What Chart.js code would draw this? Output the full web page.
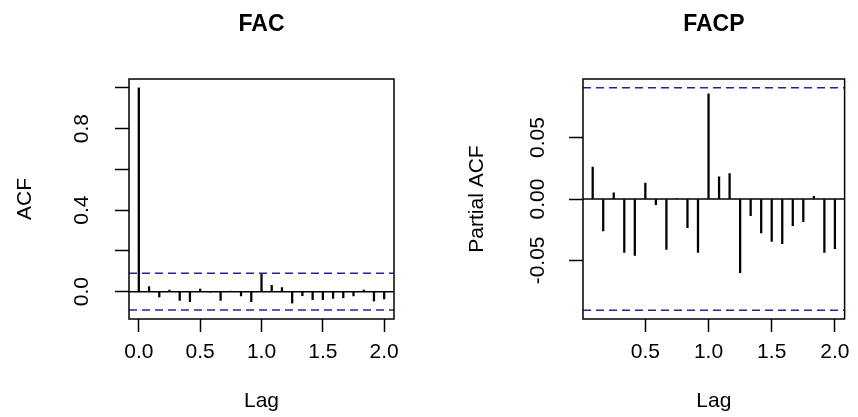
<!DOCTYPE html>
<html>
<head>
<meta charset="utf-8">
<script src="https://cdn.jsdelivr.net/npm/chart.js"></script>
<style>
body { margin: 0; background: #fff; }
.panel { position: absolute; top: 0; width: 429px; height: 417px; }
</style>
</head>
<body>
<div class="panel" style="left:0"><canvas id="acfChart"></canvas></div>
<div class="panel" style="left:429px"><canvas id="pacfChart"></canvas></div>
<script>
// series is monthly, so lag 1.0 = 12 observations
var frequency = 12;

var acfLags = [0, 1, 2, 3, 4, 5, 6, 7, 8, 9, 10, 11, 12, 13, 14, 15, 16, 17, 18, 19, 20, 21, 22, 23, 24];
var acfValues = [1.0, 0.025, -0.026, 0.008, -0.043, -0.049, 0.013, -0.002, -0.043, 0.001, -0.021, -0.049,
  0.090, 0.031, 0.020, -0.056, -0.020, -0.039, -0.039, -0.033, -0.030, -0.021, 0.008, -0.046, -0.036];

var pacfLags = [1, 2, 3, 4, 5, 6, 7, 8, 9, 10, 11, 12, 13, 14, 15, 16, 17, 18, 19, 20, 21, 22, 23, 24];
var pacfValues = [0.026, -0.026, 0.005, -0.0435, -0.046, 0.013, -0.0046, -0.041, 0.0003, -0.0234, -0.0435, 0.0856,
  0.018, 0.0207, -0.060, -0.0136, -0.0277, -0.0345, -0.0364, -0.0218, -0.0185, 0.0022, -0.0435, -0.0405];

var confLimit = 0.0905;

var lagTicks = [0, 0.5, 1, 1.5, 2];
var acfYTicks = [0, 0.2, 0.4, 0.6, 0.8, 1.0];
var acfYLabels = ['0.0', '', '0.4', '', '0.8', ''];
var pacfYTicks = [-0.05, 0, 0.05];
var pacfYLabels = ['-0.05', '0.00', '0.05'];

var acfXRange = [-0.08, 2.08];
var acfYRange = [-0.1341, 1.0436];
var pacfXRange = [0.0067, 2.0767];
var pacfYRange = [-0.0977, 0.0977];

var fontFamily = "'Liberation Sans', Arial, sans-serif";
var limitColor = '#2424a0';

var boxPlugin = {
  id: 'box',
  afterDatasetsDraw: function(chart) {
    var a = chart.chartArea, ctx = chart.ctx;
    ctx.save();
    ctx.strokeStyle = '#000';
    ctx.lineWidth = 1.5;
    ctx.strokeRect(a.left, a.top, a.right - a.left, a.bottom - a.top);
    ctx.restore();
  }
};

function hline(y, xr, color, dash) {
  return {
    type: 'line',
    data: [{x: xr[0], y: y}, {x: xr[1], y: y}],
    borderColor: color,
    borderWidth: 1.5,
    borderDash: dash,
    pointRadius: 0,
    order: 1
  };
}

function makeChart(id, o) {
  var ctx = document.getElementById(id).getContext('2d');
  return new Chart(ctx, {
    type: 'bar',
    data: {
      datasets: [
        {
          type: 'bar',
          data: o.lags.map(function(k, i) { return {x: k / frequency, y: o.values[i]}; }),
          backgroundColor: '#000',
          barThickness: 1.6,
          order: 2
        },
        hline(0, o.xRange, '#000', []),
        hline(confLimit, o.xRange, limitColor, [8, 5]),
        hline(-confLimit, o.xRange, limitColor, [8, 5])
      ]
    },
    plugins: [boxPlugin],
    options: {
      responsive: true,
      maintainAspectRatio: false,
      devicePixelRatio: 1,
      animation: false,
      layout: { padding: { left: 0, top: 0, right: o.rightPad, bottom: 0 } },
      plugins: {
        legend: { display: false },
        tooltip: { enabled: false },
        title: {
          display: true,
          text: o.title,
          fullSize: false,
          color: '#000',
          font: { family: fontFamily, size: 23, weight: 'bold' },
          padding: { top: 10.5, bottom: 40.9 }
        }
      },
      scales: {
        x: {
          type: 'linear',
          min: o.xRange[0],
          max: o.xRange[1],
          offset: false,
          afterBuildTicks: function(s) {
            s.ticks = lagTicks.filter(function(v) { return v >= o.xRange[0] && v <= o.xRange[1]; })
              .map(function(v) { return {value: v}; });
          },
          afterFit: function(s) { s.height = 98; },
          ticks: {
            autoSkip: false,
            maxRotation: 0,
            padding: 8,
            color: '#000',
            font: { family: fontFamily, size: 21 },
            callback: function(v) { return v.toFixed(1); }
          },
          grid: { offset: false, drawOnChartArea: false, drawTicks: true, tickLength: 13, color: '#000', tickColor: '#000', tickWidth: 1.5 },
          border: { display: false },
          title: {
            display: true,
            text: 'Lag',
            color: '#000',
            font: { family: fontFamily, size: 21 },
            padding: { top: 0, bottom: 3 }
          }
        },
        y: {
          type: 'linear',
          min: o.yRange[0],
          max: o.yRange[1],
          afterBuildTicks: function(s) {
            s.ticks = o.yTicks.map(function(v) { return {value: v}; });
          },
          afterFit: function(s) { s.width = o.yAxisWidth; },
          ticks: {
            minRotation: 90,
            maxRotation: 90,
            crossAlign: 'center',
            padding: o.yLabelPad,
            color: '#000',
            font: { family: fontFamily, size: 21 },
            callback: function(v, i) { return o.yLabels[i]; }
          },
          grid: { drawOnChartArea: false, drawTicks: true, tickLength: 14, color: '#000', tickColor: '#000', tickWidth: 1.5 },
          border: { display: false },
          title: {
            display: true,
            text: o.yTitle,
            color: '#000',
            font: { family: fontFamily, size: 21 },
            padding: { top: o.yTitlePad, bottom: 0 }
          }
        }
      }
    }
  });
}

makeChart('acfChart', {
  title: 'FAC', yTitle: 'ACF',
  lags: acfLags, values: acfValues,
  xRange: acfXRange, yRange: acfYRange,
  yTicks: acfYTicks, yLabels: acfYLabels,
  yAxisWidth: 129, yLabelPad: 18, yTitlePad: 12.4, rightPad: 35
});

makeChart('pacfChart', {
  title: 'FACP', yTitle: 'Partial ACF',
  lags: pacfLags, values: pacfValues,
  xRange: pacfXRange, yRange: pacfYRange,
  yTicks: pacfYTicks, yLabels: pacfYLabels,
  yAxisWidth: 154, yLabelPad: 6.6, yTitlePad: 35.4, rightPad: 10.7
});
</script>
</body>
</html>
